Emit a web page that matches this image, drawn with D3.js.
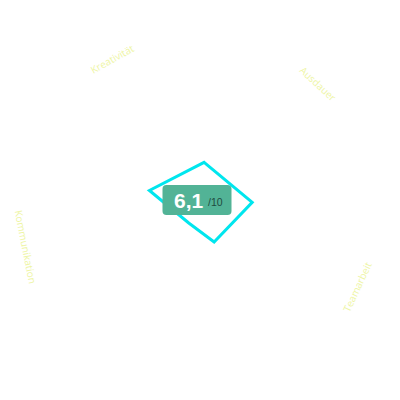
<!DOCTYPE html>
<html>
<head>
<meta charset="utf-8">
<script src="https://cdn.jsdelivr.net/npm/d3@7"></script>
<style>
  body { margin: 0; background: #fff; }
</style>
</head>
<body>
<script>
// Radar axes, clockwise from the top spoke
const categories = ["Ausdauer", "Teamarbeit", "", "Kommunikation", "Kreativität"];
const values = [6.0, 6.5, 3.9, 1.6, 6.3];
const scoreText = "6,1";
const scoreMax = "/10";

const width = 400, height = 400;
const cx = 198, cy = 213;

const svg = d3.select("body").append("svg")
  .attr("width", width)
  .attr("height", height);

// angle in radians, clockwise from 12 o'clock (d3.lineRadial convention)
const angle = d3.scaleLinear()
  .domain([0, categories.length])
  .range([0.12, 0.12 + 2 * Math.PI]);

const r = d3.scaleLinear().domain([0, 10]).range([0, 85]);

const chart = svg.append("g").attr("transform", `translate(${cx},${cy})`);

// axis labels sit between the spokes
const labelR = 176;
chart.selectAll("text.label")
  .data(categories)
  .enter()
  .append("text")
  .attr("class", "label")
  .attr("transform", (d, i) => {
    const a = angle(i + 0.5);
    const x = labelR * Math.sin(a), y = -labelR * Math.cos(a);
    let rot = a * 180 / Math.PI;
    if (rot > 90 && rot <= 270) rot -= 180;
    else if (rot > 270) rot -= 360;
    return `translate(${x},${y}) rotate(${rot})`;
  })
  .attr("text-anchor", "middle")
  .attr("dy", "0.35em")
  .style("font-family", "'Open Sans', sans-serif")
  .style("font-size", "10px")
  .style("fill", "#eef5a4")
  .text(d => d);

// value polygon
const line = d3.lineRadial()
  .angle((d, i) => angle(i))
  .radius(d => r(d))
  .curve(d3.curveLinearClosed);

chart.append("path")
  .datum(values)
  .attr("d", line)
  .attr("fill", "none")
  .attr("stroke", "#00e6ee")
  .attr("stroke-width", 3)
  .attr("stroke-linejoin", "miter");

// score badge
const badge = svg.append("g").attr("transform", `translate(${197},${200})`);
badge.append("rect")
  .attr("x", -34.5).attr("y", -15)
  .attr("width", 69).attr("height", 30)
  .attr("rx", 4)
  .attr("fill", "#52b396");

badge.append("text")
  .attr("x", -23).attr("y", 8)
  .style("font-family", "'Liberation Sans', Arial, sans-serif")
  .style("font-size", "21px")
  .style("font-weight", "bold")
  .style("fill", "#fff")
  .text(scoreText);

badge.append("text")
  .attr("x", 11).attr("y", 6)
  .style("font-family", "'Liberation Sans', Arial, sans-serif")
  .style("font-size", "10.5px")
  .style("fill", "#1f4b3f")
  .text(scoreMax);
</script>
</body>
</html>
